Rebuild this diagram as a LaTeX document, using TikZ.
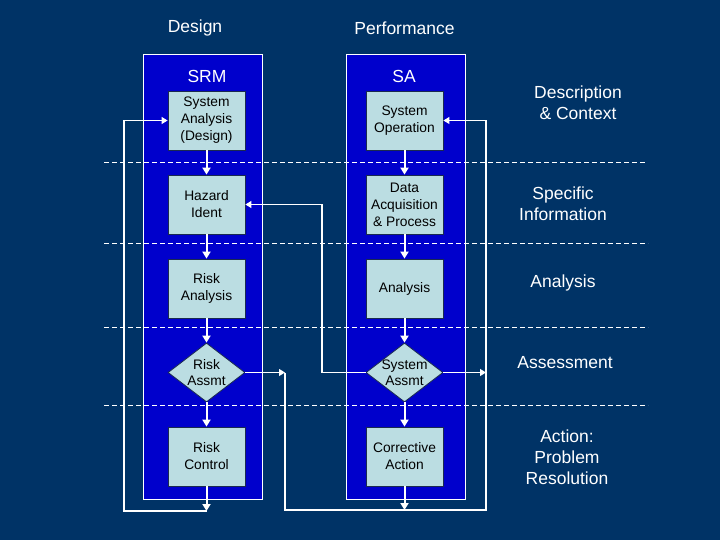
\documentclass[tikz,border=0pt]{standalone}
\usepackage{fontspec}
\setmainfont{Liberation Sans}
\usetikzlibrary{shapes.geometric,arrows.meta}
\definecolor{bg}{HTML}{003366}
\definecolor{panel}{HTML}{0000CC}
\definecolor{boxfill}{HTML}{BBDDE2}
\definecolor{boxedge}{HTML}{1A2A50}
\begin{document}
\begin{tikzpicture}[x=1pt,y=-1pt,
  panelbox/.style={draw=white, fill=panel, line width=1pt, minimum width=119pt, minimum height=444pt, inner sep=0pt},
  procbox/.style={draw=boxedge, fill=boxfill, line width=0.8pt, minimum width=77pt, minimum height=59pt, inner sep=0pt, align=center, font=\fontsize{13.8}{17}\selectfont},
  decbox/.style={diamond, draw=boxedge, fill=boxfill, line width=0.8pt, minimum width=77pt, minimum height=59pt, inner sep=0pt},
  difftext/.style={align=center, font=\fontsize{13.8}{16.5}\selectfont},
  title/.style={text=white, font=\fontsize{17.5}{21}\selectfont, align=center},
  sep/.style={white, line width=0.9pt, dash pattern=on 5pt off 3pt},
  flow/.style={white, line width=2pt, -{Triangle[width=8pt,length=7pt]}},
  loop/.style={white, line width=1pt},
  looparr/.style={white, line width=1.1pt, -{Triangle[width=7pt,length=6pt]}}]
\fill[bg] (0,0) rectangle (720,540);
\useasboundingbox (0,0) rectangle (720,540);

% column titles
\node[title] (design) at (195,28) {Design};
\node[title] (perf) at (404.5,28) {Performance};

% panels
\node[panelbox] (srmp) at (202.5,277) {};
\node[panelbox] (sap) at (405.5,277) {};
\node[title] (srm) at (207,76) {SRM};
\node[title] (sa) at (404,76) {SA};

% dashed separators
\draw[sep] (104,162) -- (645,162);
\draw[sep] (104,243) -- (648,243);
\draw[sep] (104,327) -- (648,327);
\draw[sep] (104,405.5) -- (648,405.5);

% SRM column
\node[procbox] (sysan) at (206.5,120.5) {System\\Analysis\\(Design)};
\node[procbox] (haz) at (206.5,204.5) {Hazard\\Ident};
\node[procbox] (riskan) at (206.5,288.5) {Risk\\Analysis};
\node[decbox, label={[difftext]center:Risk\\Assmt}] (riskas) at (206.5,372.5) {};
\node[procbox] (riskc) at (206.5,456.5) {Risk\\Control};

% SA column
\node[procbox] (sysop) at (404.5,120.5) {System\\Operation};
\node[procbox] (data) at (404.5,204.5) {Data\\Acquisition\\\& Process};
\node[procbox] (anal) at (404.5,288.5) {Analysis};
\node[decbox, label={[difftext]center:System\\Assmt}] (sysas) at (404.5,372.5) {};
\node[procbox] (corr) at (404.5,456.5) {Corrective\\Action};

% right labels
\node[title] (l1) at (578,103) {Description\\\& Context};
\node[title] (l2) at (563,204) {Specific\\Information};
\node[title] (l3) at (563,283) {Analysis};
\node[title] (l4) at (565,363) {Assessment};
\node[title] (l5) at (567,457) {Action:\\Problem\\Resolution};

% vertical flows
\draw[flow] (sysan) -- (haz);
\draw[flow] (haz) -- (riskan);
\draw[flow] (riskan) -- (riskas);
\draw[flow] (riskas) -- (riskc);
\draw[flow] (sysop) -- (data);
\draw[flow] (data) -- (anal);
\draw[flow] (anal) -- (sysas);
\draw[flow] (sysas) -- (corr);

% coordinates for loops
\coordinate (lb) at (206.5,511);
\coordinate (ll) at (124,511);
\coordinate (rb) at (404.5,510);
\coordinate (rl) at (285,372.5);
\coordinate (rbl) at (285,510);
\coordinate (rbr) at (486,510);
\coordinate (rr) at (486,372.5);
\coordinate (mid) at (322,372.5);

% left feedback loop
\draw[flow] (riskc) -- (lb);
\draw[looparr] (lb) -- (ll) |- (sysan.west);

% right feedback loop
\draw[flow] (corr) -- (rb);
\draw[looparr] (riskas.east) -- (rl);
\draw[looparr] (rl) -- (rbl) -- (rbr) |- (sysop.east);
\draw[looparr] (sysas.east) -- (rr);

% system assessment back to hazard ident
\draw[looparr] (sysas.west) -- (mid) |- (haz.east);
\end{tikzpicture}
\end{document}
